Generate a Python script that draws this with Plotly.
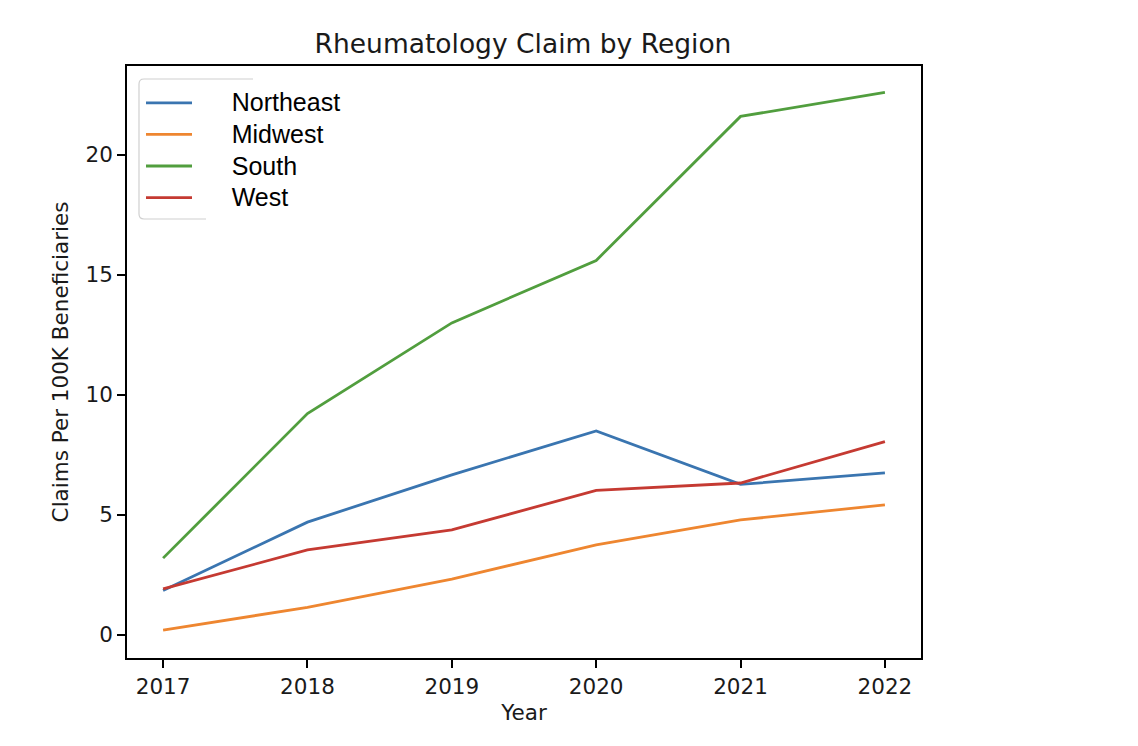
import plotly.graph_objects as go

years = [2017, 2018, 2019, 2020, 2021, 2022]
northeast = [1.85, 4.7, 6.67, 8.5, 6.27, 6.75]
midwest = [0.2, 1.15, 2.33, 3.75, 4.79, 5.42]
south = [3.2, 9.22, 13.0, 15.6, 21.6, 22.6]
west = [1.92, 3.54, 4.38, 6.02, 6.33, 8.05]

series = [
    ("Northeast", northeast, "#3a75b0"),
    ("Midwest", midwest, "#ee8630"),
    ("South", south, "#519e3e"),
    ("West", west, "#c53a32"),
]

fig = go.Figure()
for name, vals, color in series:
    label = '<span style="font-size:25px">' + "\u00a0" * 5 + name + "</span>"
    fig.add_trace(go.Scatter(x=years, y=vals, mode="lines", name=label,
                             line=dict(color=color, width=2.8)))

# page offset of the plot div (body margin)
OFF = 8
PL, PR, PT, PB = 127, 921, 66, 658  # plot area in page coords
W, H = 1138 - OFF, 746 - OFF
L, T = PL - OFF, PT - OFF
pw, ph = PR - PL, PB - PT
R, B = W - L - pw, H - T - ph

def px(x):
    return (x - PL) / pw

def py(y):
    return 1 - (y - PT) / ph

tickfont = dict(family="DejaVu Sans", size=21.5, color="#1a1a1a")
fig.update_layout(
    width=W, height=H,
    margin=dict(l=L, r=R, t=T, b=B),
    paper_bgcolor="white", plot_bgcolor="white",
    title=dict(text="Rheumatology Claim by Region", x=px(523), xanchor="center", xref="paper",
               y=1 - (44 - OFF) / H, yanchor="middle",
               font=dict(family="DejaVu Sans", size=26.5, color="#1a1a1a")),
    showlegend=True,
    legend=dict(x=px(141), y=py(82), xanchor="left", yanchor="top",
                bgcolor="rgba(0,0,0,0)", borderwidth=0,
                font=dict(family="Liberation Sans, Arial", size=22, color="black"),
                tracegroupgap=0, itemwidth=46),
    xaxis=dict(range=[2016.75, 2022.25], tickvals=years, ticktext=[str(y) for y in years],
               showgrid=False, zeroline=False, showline=True, linecolor="black", linewidth=1.5,
               mirror=True, ticks="outside", ticklen=8, tickwidth=1.5, tickcolor="black", tickfont=tickfont,
               title=dict(text="Year", font=tickfont, standoff=7)),
    yaxis=dict(range=[-0.96, 23.7], tickvals=[0, 5, 10, 15, 20],
               showgrid=False, zeroline=False, showline=True, linecolor="black", linewidth=1.5,
               mirror=True, ticks="outside", ticklen=8, tickwidth=1.5, tickcolor="black", tickfont=tickfont,
               title=dict(text="Claims Per 100K Beneficiaries", font=tickfont, standoff=11)),
)

# partial legend frame (as in reference)
fig.add_shape(type="path", xref="paper", yref="paper",
              path=f"M {px(253)},{py(79)} L {px(144)},{py(79)} Q {px(139)},{py(79)} {px(139)},{py(84)} "
                   f"L {px(139)},{py(214)} Q {px(139)},{py(219)} {px(144)},{py(219)} L {px(206)},{py(219)}",
              line=dict(color="#d0d0d0", width=1.2))

fig.write_html("out.html")
